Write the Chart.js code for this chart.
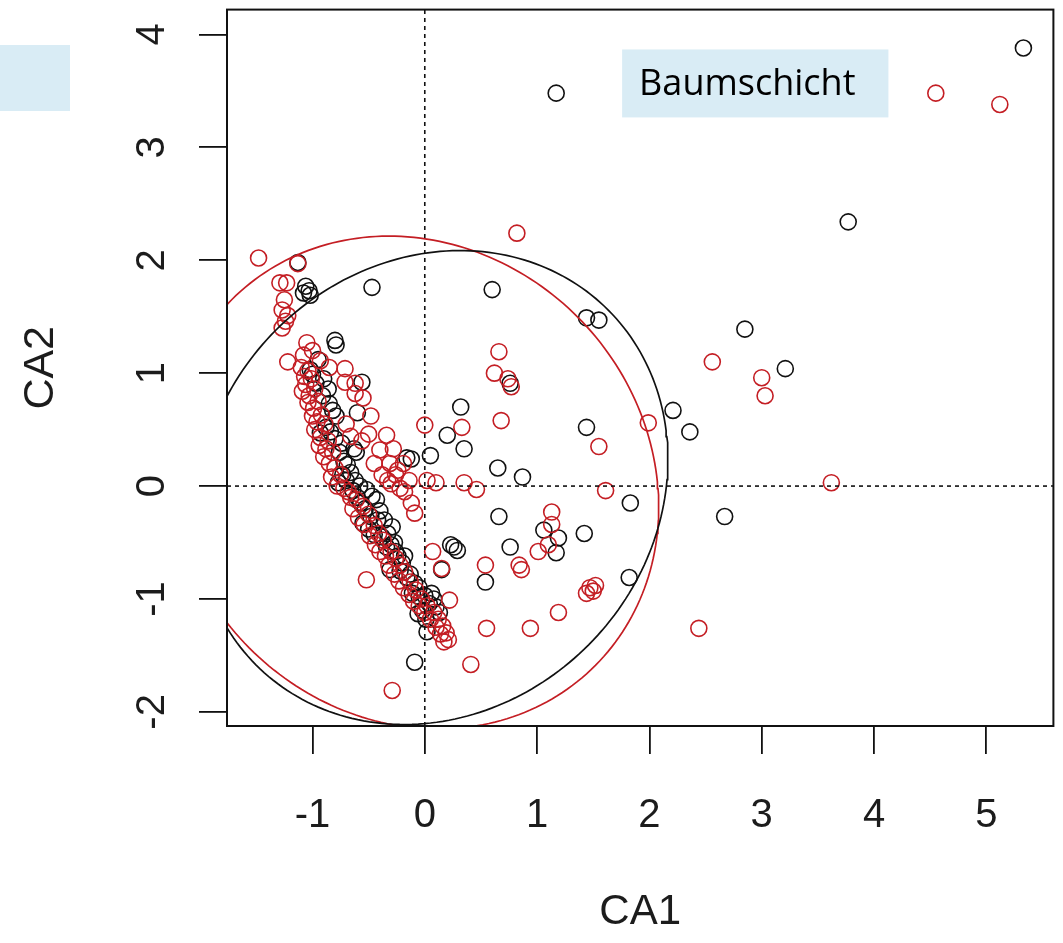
<!DOCTYPE html>
<html>
<head>
<meta charset="utf-8">
<script src="https://cdn.jsdelivr.net/npm/chart.js@4.4.1/dist/chart.umd.min.js"></script>
<style>
	html, body { margin: 0; padding: 0; background: #fff; }
	#wrap { position: relative; width: 1063px; height: 943px; }
	#note-left { position: absolute; left: 0; top: 45px; width: 70px; height: 66px; background: #d9ecf5; }
</style>
</head>
<body>
<div id="wrap">
	<canvas id="ca-plot" width="1063" height="943"></canvas>
	<div id="note-left"></div>
</div>
<script>
// axis ticks
const xTicks = [-1, 0, 1, 2, 3, 4, 5];
const yTicks = [-2, -1, 0, 1, 2, 3, 4];
const xRange = [-1.761, 5.597];
const yRange = [-2.125, 4.22];

// site scores (CA1, CA2), first group (black)
const blackSites = [
	[5.33, 3.88], [1.17, 3.48], [3.77, 2.34], [-0.47, 1.76], [0.60, 1.74],
	[1.44, 1.49], [1.55, 1.47], [2.85, 1.39], [3.21, 1.04], [2.21, 0.67],
	[2.36, 0.48], [1.44, 0.52], [0.32, 0.70], [0.20, 0.45], [0.35, 0.33],
	[0.05, 0.27], [-0.16, 0.25], [-0.12, 0.24], [0.65, 0.16], [0.87, 0.08],
	[0.76, 0.91], [0.66, -0.27], [1.83, -0.15], [2.67, -0.27], [0.76, -0.54],
	[0.26, -0.54], [0.29, -0.57], [1.06, -0.39], [1.19, -0.46], [1.17, -0.59],
	[1.42, -0.42], [1.82, -0.81], [0.54, -0.85], [0.02, -1.29], [-0.09, -1.56],
	[0.15, -0.74], [0.23, -0.52],
	[-1.13, 1.98], [-1.06, 1.77], [-1.03, 1.73], [-1.08, 1.71], [-1.02, 1.69],
	[-0.80, 1.29], [-0.79, 1.25], [-1.02, 1.03], [-1.00, 0.99], [-0.97, 0.91],
	[-0.91, 0.80], [-0.85, 0.73], [-0.82, 0.67], [-0.79, 0.62], [-0.93, 0.47],
	[-0.88, 0.52], [-0.56, 0.92], [-0.60, 0.65], [-0.63, 0.33], [-0.61, 0.30],
	[-0.74, 0.38], [-0.72, 0.22], [-0.69, 0.19], [-0.77, 0.03], [-0.66, 0.12],
	[-0.62, 0.05], [-0.58, 0.00], [-0.52, -0.03], [-0.47, -0.09], [-0.43, -0.12],
	[-0.55, -0.33], [-0.48, -0.27], [-0.40, -0.22], [-0.36, -0.30], [-0.29, -0.36],
	[-0.38, -0.45], [-0.34, -0.54], [-0.27, -0.50], [-0.31, -0.74], [-0.24, -0.62],
	[-0.20, -0.68], [-0.16, -0.81], [-0.11, -0.95], [-0.05, -0.98], [0.04, -1.04],
	[0.10, -1.07], [-0.02, -1.10], [0.06, -0.95], [-0.06, -1.13],
	[-0.95, 1.12], [-0.90, 0.95], [-0.86, 0.86], [-0.84, 0.48], [-0.80, 0.42],
	[-0.76, 0.30], [-0.73, 0.10], [-0.70, 0.05], [-0.64, -0.04], [-0.60, -0.10],
	[-0.57, -0.15], [-0.53, -0.20], [-0.50, -0.38], [-0.45, -0.43], [-0.42, -0.30],
	[-0.33, -0.42], [-0.30, -0.52], [-0.26, -0.58], [-0.22, -0.75], [-0.18, -0.62],
	[-0.13, -0.78], [-0.09, -0.86], [-0.05, -0.90], [0.00, -0.97], [0.08, -1.00],
	[0.13, -1.12], [0.01, -1.18]
];

// site scores, second group (red)
const redSites = [
	[4.55, 3.48], [5.12, 3.38], [0.82, 2.24], [0.66, 1.19], [0.62, 1.00],
	[0.74, 0.95], [0.77, 0.88], [0.68, 0.58], [0.00, 0.54], [0.33, 0.52],
	[2.56, 1.10], [3.00, 0.96], [3.03, 0.80], [1.99, 0.56], [1.55, 0.35],
	[1.61, -0.04], [3.62, 0.03], [2.44, -1.26], [1.13, -0.23], [1.13, -0.34],
	[1.01, -0.58], [1.10, -0.52], [0.84, -0.70], [0.86, -0.74], [0.54, -0.70],
	[1.47, -0.90], [1.50, -0.93], [1.44, -0.95], [1.52, -0.88], [1.19, -1.12],
	[0.94, -1.26], [0.55, -1.26], [0.41, -1.58], [-0.29, -1.81], [-0.52, -0.83],
	[0.07, -0.58], [0.15, -0.73], [0.22, -1.01], [0.10, 0.03], [0.35, 0.03],
	[0.46, -0.03], [-0.09, -0.24], [0.02, 0.05],
	[-1.48, 2.02], [-1.13, 1.97], [-1.29, 1.80], [-1.23, 1.80], [-1.25, 1.65],
	[-1.27, 1.56], [-1.22, 1.51], [-1.27, 1.40], [-1.24, 1.46], [-1.22, 1.10],
	[-1.05, 1.27], [-1.00, 1.20], [-1.08, 1.16], [-0.93, 1.11], [-0.85, 1.05],
	[-0.71, 0.92], [-0.62, 0.82], [-1.04, 1.02], [-1.01, 0.95], [-1.06, 0.90],
	[-0.98, 0.86], [-1.03, 0.80], [-0.95, 0.75], [-0.99, 0.69], [-0.92, 0.63],
	[-0.96, 0.57], [-0.89, 0.55], [-0.93, 0.43], [-0.86, 0.40], [-0.90, 0.26],
	[-0.82, 0.30], [-0.80, 0.16], [-0.75, 0.10], [-0.70, 0.55], [-0.66, 0.44],
	[-0.56, 0.40], [-0.50, 0.46], [-0.34, 0.45], [-0.40, 0.32], [-0.28, 0.33],
	[-0.31, 0.20], [-0.19, 0.20], [-0.26, 0.10], [-0.14, 0.05], [-0.30, 0.02],
	[-0.22, -0.02], [-0.68, -0.05], [-0.61, -0.12], [-0.55, -0.18], [-0.50, -0.25],
	[-0.45, -0.35], [-0.41, -0.42], [-0.37, -0.48], [-0.30, -0.58], [-0.26, -0.64],
	[-0.22, -0.70], [-0.18, -0.76], [-0.13, -0.85], [-0.08, -0.92], [-0.03, -1.00],
	[0.02, -1.06], [0.08, -1.12], [0.12, -1.18], [0.16, -1.24], [0.19, -1.30],
	[0.21, -1.36],
	[-1.10, 1.05], [-1.07, 0.97], [-1.09, 0.84], [-1.04, 0.74], [-1.00, 0.62],
	[-0.98, 0.50], [-0.94, 0.36], [-0.88, 0.33], [-0.85, 0.20], [-0.83, 0.08],
	[-0.78, 0.00], [-0.72, -0.02], [-0.66, -0.10], [-0.64, -0.20], [-0.59, -0.28],
	[-0.54, -0.34], [-0.49, -0.44], [-0.44, -0.52], [-0.40, -0.58], [-0.35, -0.62],
	[-0.32, -0.70], [-0.27, -0.78], [-0.23, -0.84], [-0.19, -0.90], [-0.14, -0.96],
	[-0.10, -1.02], [-0.05, -1.06], [0.00, -1.12], [0.05, -1.18], [0.10, -1.25],
	[0.14, -1.31], [0.17, -1.38], [-0.71, 1.04], [-0.62, 0.91], [-0.55, 0.78],
	[-0.48, 0.62], [-0.24, 0.14], [-0.45, 0.20], [-0.38, 0.10], [-0.33, 0.05],
	[-0.18, -0.05], [-0.12, -0.15]
];

// group ellipses: centre x, centre y, semi-axis a, semi-axis b, angle (deg)
const blackEllipse = [0.066, -0.013, 2.22, 1.97, 45];
const redEllipse = [-0.10, 0.031, 2.29, 2.07, -45];

const panelLabel = "Baumschicht";
const panelBox = { x0: 1.757, x1: 4.128, y0: 3.265, y1: 3.867 };

const colors = {
	black: "#111111",
	red: "#c41e24",
	text: "#1c1c1c",
	note: "#d9ecf5",
};
const axisFont = "'Liberation Sans', Arial, Helvetica, sans-serif";

const toPoints = rows => rows.map(([x, y]) => ({ x, y }));

const ellipsePoints = ([cx, cy, a, b, deg]) => {
	const t = (deg * Math.PI) / 180;
	const pts = [];
	for (let i = 0; i <= 240; i++) {
		const u = (i / 240) * 2 * Math.PI;
		const ex = a * Math.cos(u);
		const ey = b * Math.sin(u);
		pts.push({ x: cx + ex * Math.cos(t) - ey * Math.sin(t), y: cy + ex * Math.sin(t) + ey * Math.cos(t) });
	}
	return pts;
};

const siteSet = (data, color, order) => ({
	type: "scatter",
	data: toPoints(data),
	order,
	pointStyle: "circle",
	pointRadius: 8,
	pointHoverRadius: 8,
	pointBorderWidth: 1.6,
	borderColor: color,
	backgroundColor: "rgba(0,0,0,0)",
	clip: false,
});

const lineSet = (data, color, dash, order) => ({
	type: "line",
	data,
	order,
	borderColor: color,
	borderWidth: dash.length ? 1.6 : 1.7,
	borderDash: dash,
	pointRadius: 0,
	fill: false,
	tension: 0,
	clip: 0,
});

// R style box, rotated y labels and panel label
const rDecor = {
	id: "rDecor",
	beforeDatasetsDraw(chart) {
		const { ctx, scales } = chart;
		const x0 = scales.x.getPixelForValue(panelBox.x0);
		const x1 = scales.x.getPixelForValue(panelBox.x1);
		const y0 = scales.y.getPixelForValue(panelBox.y1);
		const y1 = scales.y.getPixelForValue(panelBox.y0);
		ctx.save();
		ctx.fillStyle = colors.note;
		ctx.fillRect(x0, y0, x1 - x0, y1 - y0);
		ctx.fillStyle = "#000";
		ctx.font = "36px 'Open Sans', 'Noto Sans', sans-serif";
		ctx.textBaseline = "middle";
		ctx.textAlign = "left";
		ctx.fillText(panelLabel, x0 + 17, (y0 + y1) / 2 + 1);
		ctx.restore();
	},
	afterDraw(chart) {
		const { ctx, chartArea: a, scales } = chart;
		ctx.save();
		ctx.strokeStyle = colors.black;
		ctx.lineWidth = 2;
		ctx.strokeRect(a.left, a.top, a.right - a.left, a.bottom - a.top);
		ctx.fillStyle = colors.text;
		ctx.font = "40px " + axisFont;
		ctx.textAlign = "center";
		ctx.textBaseline = "middle";
		yTicks.forEach(v => {
			const py = scales.y.getPixelForValue(v);
			ctx.save();
			ctx.translate(a.left - 74, py);
			ctx.rotate(-Math.PI / 2);
			ctx.fillText(String(v), 0, 0);
			ctx.restore();
		});
		ctx.restore();
	},
};

const tickGrid = { display: true, drawOnChartArea: false, drawTicks: true, tickLength: 28, color: colors.black, lineWidth: 1.8 };

new Chart(document.getElementById("ca-plot"), {
	data: {
		datasets: [
			siteSet(redSites, colors.red, 2),
			siteSet(blackSites, colors.black, 3),
			lineSet(ellipsePoints(blackEllipse), colors.black, [], 1),
			lineSet(ellipsePoints(redEllipse), colors.red, [], 1),
			lineSet([{ x: xRange[0], y: 0 }, { x: xRange[1], y: 0 }], colors.black, [4, 4], 0),
			lineSet([{ x: 0, y: yRange[0] }, { x: 0, y: yRange[1] }], colors.black, [4, 4], 0),
		],
	},
	options: {
		responsive: false,
		animation: false,
		events: [],
		layout: { padding: { top: 9, right: 5, left: 0, bottom: 0 } },
		plugins: { legend: { display: false }, tooltip: { enabled: false } },
		scales: {
			x: {
				type: "linear",
				position: "bottom",
				min: xRange[0],
				max: xRange[1],
				afterBuildTicks: s => { s.ticks = xTicks.map(v => ({ value: v })); },
				afterFit: s => { s.height = 217; },
				grid: tickGrid,
				border: { display: false },
				ticks: {
					color: colors.text,
					font: { family: axisFont, size: 40 },
					padding: 38,
					maxRotation: 0,
					autoSkip: false,
					callback: v => String(v),
				},
				title: {
					display: true,
					text: "CA1",
					color: colors.text,
					font: { family: axisFont, size: 42, lineHeight: 1.0 },
					padding: { top: 0, bottom: 10 },
				},
			},
			y: {
				type: "linear",
				position: "left",
				min: yRange[0],
				max: yRange[1],
				afterBuildTicks: s => { s.ticks = yTicks.map(v => ({ value: v })); },
				afterFit: s => { s.width = 227; },
				grid: tickGrid,
				border: { display: false },
				ticks: { display: false },
				title: {
					display: true,
					text: "CA2",
					color: colors.text,
					font: { family: axisFont, size: 43, lineHeight: 1.0 },
					padding: { top: 20, bottom: 0 },
				},
			},
		},
	},
	plugins: [rDecor],
});
</script>
</body>
</html>
